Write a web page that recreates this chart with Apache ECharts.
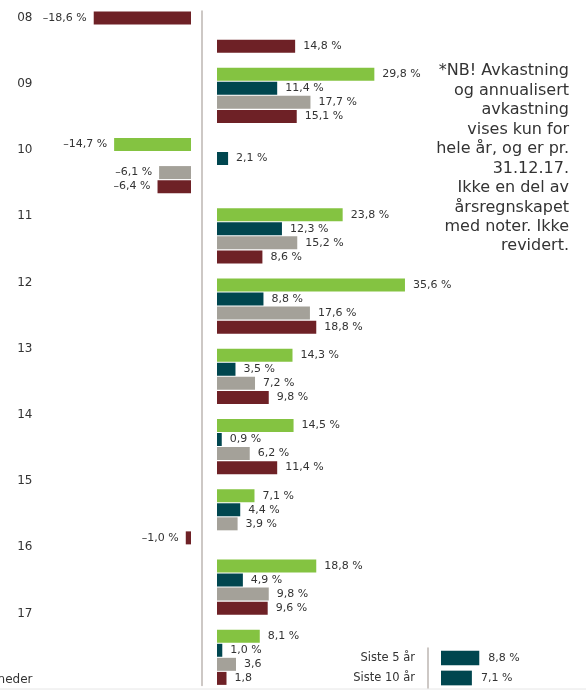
<!DOCTYPE html>
<html>
<head>
<meta charset="utf-8">
<script src="https://cdn.jsdelivr.net/npm/echarts@6/dist/echarts.min.js"></script>
<style>
html, body { margin: 0; padding: 0; background: #fff; }
#chart { width: 586px; height: 690px; }
</style>
</head>
<body>
<div id="chart"></div>
<script>
// år og serier (avkastning i %)
var years = ['08', '09', '10', '11', '12', '13', '14', '15', '16', '17'];
var yearLabels = years.concat(['neder']);
var green = [null, 29.8, -14.7, 23.8, 35.6, 14.3, 14.5, 7.1, 18.8, 8.1];
var teal = [-18.6, 11.4, 2.1, 12.3, 8.8, 3.5, 0.9, 4.4, 4.9, 1.0];
var gray = [null, 17.7, -6.1, 15.2, 17.6, 7.2, 6.2, 3.9, 9.8, 3.6];
var red = [14.8, 15.1, -6.4, 8.6, 18.8, 9.8, 11.4, -1.0, 9.6, 1.8];

// annualisert avkastning
var periods = ['Siste 5 år', 'Siste 10 år'];
var periodValues = [8.8, 7.1];

var colors = ['#84c341', '#00464f', '#a4a199', '#6e2126'];
var seriesValues = [green, teal, gray, red];
var font = 'DejaVu Sans';

var chart = echarts.init(document.getElementById('chart'));

// hver gruppe = 4 stolper + 1 tom rad (første tomme rad droppet)
var rowCount = years.length * 5 - 2;
var rows = [];
for (var i = 0; i < rowCount; i++) rows.push(String(i));

function fmt(v, pct) {
    var s = (v < 0 ? '\u2013' : '') + Math.abs(v).toFixed(1).replace('.', ',');
    return pct ? s + ' %' : s;
}

var series = [];
seriesValues.forEach(function (vals, k) {
    var neg = [], pos = [];
    for (var r = 0; r < rowCount; r++) { neg.push('-'); pos.push('-'); }
    vals.forEach(function (v, g) {
        if (v === null) return;
        var r = g * 5 + k - 1;
        var item = { value: v, pct: !(g === years.length - 1 && k >= 2) };
        if (g === 0 && k === 1) item.itemStyle = { color: colors[3] };
        if (v < 0) neg[r] = item; else pos[r] = item;
    });
    [neg, pos].forEach(function (data, side) {
        series.push({
            type: 'bar',
            xAxisIndex: side,
            yAxisIndex: side,
            data: data,
            barWidth: 13,
            barGap: '-100%',
            itemStyle: { color: colors[k] },
            label: {
                show: true,
                position: side === 0 ? 'left' : 'right',
                distance: side === 0 ? 7 : 8,
                fontFamily: font,
                fontSize: 11,
                color: '#333',
                formatter: function (p) { return fmt(p.data.value, p.data.pct); }
            }
        });
    });
});

series.push({
    type: 'bar',
    xAxisIndex: 3,
    yAxisIndex: 3,
    data: periodValues,
    barWidth: 14.7,
    itemStyle: { color: colors[1] },
    label: {
        show: true,
        position: 'right',
        distance: 9,
        fontFamily: font,
        fontSize: 11,
        color: '#333',
        formatter: function (p) { return fmt(p.value, true); }
    }
});

var rowAxis = {
    type: 'category',
    data: rows,
    inverse: true,
    axisLine: { show: false },
    axisTick: { show: false },
    axisLabel: { show: false }
};

var option = {
    animation: false,
    grid: [
        { left: 0, top: 11, width: 191, height: 674.4, outerBoundsMode: 'none' },
        { left: 217, top: 11, width: 211.2, height: 674.4, outerBoundsMode: 'none' },
        { left: 40, top: 17.5, width: 10, height: 662.2, outerBoundsMode: 'none' },
        { left: 441, top: 648, width: 87, height: 40, outerBoundsMode: 'none' }
    ],
    xAxis: [
        { gridIndex: 0, type: 'value', min: -191 / 5.23, max: 0, show: false },
        { gridIndex: 1, type: 'value', min: 0, max: 40, show: false },
        { gridIndex: 2, type: 'value', show: false },
        { gridIndex: 3, type: 'value', min: 0, max: 20, show: false }
    ],
    yAxis: [
        Object.assign({}, rowAxis, {
            gridIndex: 0,
            position: 'right',
            offset: 11,
            axisLine: { show: true, onZero: false, lineStyle: { color: '#bdb6b2', width: 1.5 } }
        }),
        Object.assign({}, rowAxis, { gridIndex: 1 }),
        {
            gridIndex: 2,
            type: 'category',
            data: yearLabels,
            inverse: true,
            boundaryGap: false,
            axisLine: { show: false },
            axisTick: { show: false },
            axisLabel: { margin: 7.5, fontFamily: font, fontSize: 12, color: '#333' }
        },
        {
            gridIndex: 3,
            type: 'category',
            data: periods,
            inverse: true,
            offset: 13,
            axisLine: { show: true, onZero: false, lineStyle: { color: '#bdb6b2', width: 1.5 } },
            axisTick: { show: false },
            axisLabel: { margin: 13, fontFamily: font, fontSize: 11.5, color: '#333' }
        }
    ],
    graphic: [
        {
            type: 'text',
            x: 569,
            y: 61.5,
            style: {
                text: '*NB! Avkastning\nog annualisert\navkastning\nvises kun for\nhele år, og er pr.\n31.12.17.\nIkke en del av\nårsregnskapet\nmed noter. Ikke\nrevidert.',
                align: 'right',
                fontFamily: font,
                fontSize: 16,
                lineHeight: 19.45,
                fill: '#333'
            }
        },
        {
            type: 'line',
            shape: { x1: 0, y1: 689, x2: 586, y2: 689 },
            style: { stroke: '#e6e6e6', lineWidth: 1 }
        }
    ],
    series: series
};

chart.setOption(option);
</script>
</body>
</html>
